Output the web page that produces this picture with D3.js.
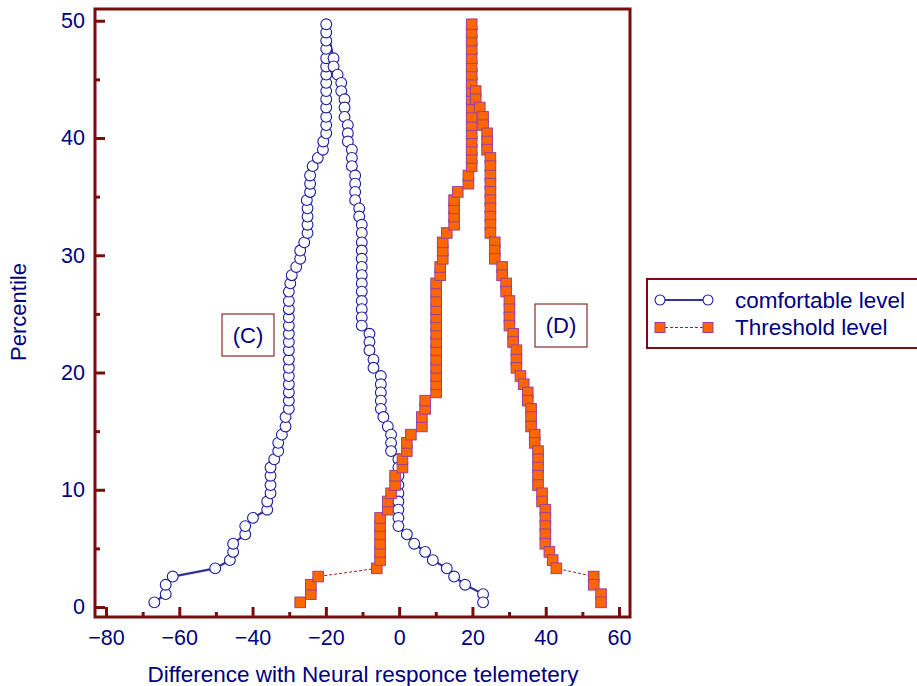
<!DOCTYPE html>
<html>
<head>
<meta charset="utf-8">
<script src="https://cdn.jsdelivr.net/npm/d3@7"></script>
<style>
	body { margin: 0; background: #fff; }
	text { font-family: "Liberation Sans", Arial, sans-serif; fill: #000080; }
</style>
</head>
<body>
<script>
// percentile levels (folded, rank 0 .. 69)
const percentiles = [0.4, 1.1, 1.9, 2.6, 3.3, 4.0, 4.7, 5.4, 6.2, 6.9, 7.6, 8.3, 9.0, 9.7, 10.4, 11.2, 11.9, 12.6, 13.3, 14.0,
	14.7, 15.4, 16.2, 16.9, 17.6, 18.3, 19.0, 19.7, 20.4, 21.1, 21.9, 22.6, 23.3, 24.0, 24.7, 25.4, 26.1, 26.9, 27.6, 28.3,
	29.0, 29.7, 30.4, 31.1, 31.9, 32.6, 33.3, 34.0, 34.7, 35.4, 36.1, 36.8, 37.6, 38.3, 39.0, 39.7, 40.4, 41.1, 41.8, 42.6,
	43.3, 44.0, 44.7, 45.4, 46.1, 46.8, 47.6, 48.3, 49.0, 49.7];

// comfortable level: rising side (rank 0 -> 69), falling side (rank 65 -> 0)
const comfortRise = [-66.8, -63.7, -63.7, -61.8, -50.2, -46.2, -45.3, -45.3, -42.0, -42.0, -39.9, -36.0, -36.0, -35.1, -35.1,
	-35.1, -35.1, -34.1, -33.0, -33.0, -32.0, -31.0, -31.0, -30.1, -30.1, -30.1, -30.1, -30.1, -30.1, -30.1, -30.1, -30.1,
	-30.1, -30.1, -30.1, -30.1, -30.1, -30.1, -29.7, -29.3, -28.1, -27.0, -27.0, -25.9, -25.0, -25.0, -25.0, -25.0, -25.2,
	-24.3, -24.3, -24.3, -23.6, -22.2, -20.8, -20.7, -19.9, -19.9, -19.9, -19.9, -19.9, -19.9, -19.9, -19.9, -19.9, -19.9,
	-19.9, -19.9, -19.9, -19.9];
const comfortFallRanks = d3.range(65, -1, -1);
const comfortFall = [-17.9, -17.9, -16.8, -15.8, -15.8, -14.9, -14.9, -14.9, -14.0, -14.0, -14.0, -12.9, -12.9, -12.9, -12.0,
	-12.0, -12.0, -12.0, -10.9, -10.9, -10.2, -10.2, -10.2, -10.2, -10.2, -10.2, -10.2, -10.2, -10.2, -10.2, -10.2, -10.2,
	-10.2, -8.1, -8.1, -8.1, -7.0, -7.0, -5.0, -5.0, -5.0, -5.0, -5.0, -4.3, -3.1, -2.2, -2.2, -2.2, -0.2, -0.2, -0.2, -0.2,
	-0.2, -0.2, -0.2, -0.2, -0.2, 2.1, 4.1, 7.1, 9.2, 13.0, 15.0, 18.0, 22.9, 22.9];

// threshold level: rising side (rank 0 -> 69), falling side (rank 61 -> 0)
const thresholdRise = [-27.0, -24.1, -24.1, -22.1, -6.1, -5.2, -5.2, -5.2, -5.2, -5.2, -5.2, -3.1, -3.1, -2.2, -1.1, -1.1,
	0.9, 0.9, 2.1, 2.1, 3.2, 6.2, 6.2, 7.1, 7.1, 10.1, 10.1, 10.1, 10.1, 10.1, 10.1, 10.1, 10.1, 10.1, 10.1, 10.1, 10.1,
	10.1, 10.1, 11.2, 11.2, 11.9, 11.9, 11.9, 13.0, 15.0, 15.0, 15.0, 15.0, 16.0, 18.9, 18.9, 19.8, 19.8, 19.8, 19.8, 19.8,
	19.8, 19.8, 19.8, 19.8, 19.8, 19.8, 19.8, 19.8, 19.8, 19.8, 19.8, 19.8, 19.8];
const thresholdFallRanks = d3.range(61, -1, -1);
const thresholdFall = [20.9, 20.9, 22.0, 22.9, 22.9, 24.0, 24.0, 24.0, 24.9, 24.9, 24.9, 24.9, 24.9, 24.9, 24.9, 24.9, 24.9,
	24.9, 26.1, 26.1, 26.1, 28.1, 28.1, 29.2, 29.2, 30.1, 30.1, 30.1, 30.1, 31.1, 31.1, 32.0, 32.0, 32.0, 33.1, 34.0, 35.1,
	35.1, 36.0, 36.0, 36.0, 37.0, 37.0, 37.9, 37.9, 37.9, 37.9, 37.9, 39.0, 39.0, 39.9, 39.9, 39.9, 39.9, 39.9, 41.0, 41.9,
	42.9, 53.1, 53.1, 55.1, 55.1];

const xTicks = [-80, -60, -40, -20, 0, 20, 40, 60];
const yTicks = [0, 10, 20, 30, 40, 50];
const seriesNames = ["comfortable level", "Threshold level"];

const frameColor = "#7a0c0c";
const blue = "#1c1ca0";
const orange = "#ff6600";

const width = 917, height = 686;
const plot = { left: 95, right: 630, top: 9, bottom: 617 };

const x = d3.scaleLinear().domain([-83, 63]).range([plot.left, plot.right]);
const y = d3.scaleLinear().domain([-0.85, 51]).range([plot.bottom, plot.top]);

const toPoints = (rise, fall, fallRanks) =>
	rise.map((v, i) => ({ x: v, y: percentiles[i] }))
		.concat(fall.map((v, i) => ({ x: v, y: percentiles[fallRanks[i]] })));

const comfort = toPoints(comfortRise, comfortFall, comfortFallRanks);
const threshold = toPoints(thresholdRise, thresholdFall, thresholdFallRanks);

const svg = d3.select("body").append("svg")
	.attr("width", width)
	.attr("height", height);

// axes
const tickStyle = g => {
	g.select(".domain").remove();
	g.selectAll(".tick line").attr("stroke", frameColor).attr("stroke-width", 3);
	g.selectAll(".tick text").style("font-size", "21.5px").attr("fill", "#000080");
};

svg.append("g")
	.attr("transform", `translate(0,${plot.bottom})`)
	.call(d3.axisBottom(x).tickValues(d3.range(-70, 61, 20)).tickSize(-5).tickFormat(""))
	.call(tickStyle);
svg.append("g")
	.attr("transform", `translate(0,${plot.bottom})`)
	.call(d3.axisBottom(x).tickValues(xTicks).tickSize(-10).tickPadding(13))
	.call(tickStyle);

svg.append("g")
	.attr("transform", `translate(${plot.left},0)`)
	.call(d3.axisLeft(y).tickValues(d3.range(5, 50, 10)).tickSize(-5).tickFormat(""))
	.call(tickStyle);
svg.append("g")
	.attr("transform", `translate(${plot.left},0)`)
	.call(d3.axisLeft(y).tickValues(yTicks).tickSize(-10).tickPadding(10))
	.call(tickStyle);

// frame
svg.append("path")
	.attr("d", `M${plot.left},${plot.bottom}V${plot.top}H${plot.right}V${plot.bottom}Z`)
	.attr("fill", "none")
	.attr("stroke", frameColor)
	.attr("stroke-width", 3);

// comfortable level
const line = d3.line().x(d => x(d.x)).y(d => y(d.y));

svg.append("path")
	.datum(comfort)
	.attr("d", line)
	.attr("fill", "none")
	.attr("stroke", "#33339a")
	.attr("stroke-width", 2.2);

svg.append("g").selectAll("circle")
	.data(comfort)
	.join("circle")
	.attr("cx", d => x(d.x))
	.attr("cy", d => y(d.y))
	.attr("r", 5.4)
	.attr("fill", "#fff")
	.attr("stroke", blue)
	.attr("stroke-width", 1.1);

// threshold level
svg.append("path")
	.datum(threshold)
	.attr("d", line)
	.attr("fill", "none")
	.attr("stroke", "#a02020")
	.attr("stroke-width", 1)
	.attr("stroke-dasharray", "3,2");

const sq = 10.6;
svg.append("g").selectAll("rect")
	.data(threshold)
	.join("rect")
	.attr("x", d => x(d.x) - sq / 2)
	.attr("y", d => y(d.y) - sq / 2)
	.attr("width", sq)
	.attr("height", sq)
	.attr("fill", orange)
	.attr("stroke", "#9a3f9a")
	.attr("stroke-width", 1);

// annotations
const note = (label, bx, by, bw, bh) => {
	svg.append("rect")
		.attr("x", bx).attr("y", by).attr("width", bw).attr("height", bh)
		.attr("fill", "#fff")
		.attr("stroke", "#8b2a2a")
		.attr("stroke-width", 1.2);
	svg.append("text")
		.attr("x", bx + bw / 2).attr("y", by + bh / 2)
		.attr("text-anchor", "middle")
		.attr("dominant-baseline", "central")
		.style("font-size", "22px")
		.text(label);
};
note("(C)", 222, 314, 52, 42);
note("(D)", 535, 304, 52, 43);

// axis titles
svg.append("text")
	.attr("x", 363).attr("y", 674)
	.attr("text-anchor", "middle")
	.attr("dominant-baseline", "central")
	.style("font-size", "22.5px")
	.text("Difference with Neural responce telemetery");

svg.append("text")
	.attr("transform", "translate(18,312) rotate(-90)")
	.attr("text-anchor", "middle")
	.attr("dominant-baseline", "central")
	.style("font-size", "22px")
	.text("Percentile");

// legend
const legend = svg.append("g");
legend.append("rect")
	.attr("x", 647).attr("y", 279).attr("width", 280).attr("height", 69)
	.attr("fill", "#fff")
	.attr("stroke", frameColor)
	.attr("stroke-width", 2);

seriesNames.forEach((name, i) => {
	const ly = 300 + i * 27.5;
	const g = legend.append("g");
	g.append("line")
		.attr("x1", 660).attr("x2", 708).attr("y1", ly).attr("y2", ly)
		.attr("stroke", i ? "#a02020" : "#33339a")
		.attr("stroke-width", i ? 1 : 2)
		.attr("stroke-dasharray", i ? "3,2" : null);
	[660, 708].forEach(cx => {
		if (i) {
			g.append("rect")
				.attr("x", cx - 5).attr("y", ly - 5).attr("width", 10).attr("height", 10)
				.attr("fill", orange).attr("stroke", "#9a3f9a");
		} else {
			g.append("circle")
				.attr("cx", cx).attr("cy", ly).attr("r", 5)
				.attr("fill", "#fff").attr("stroke", blue).attr("stroke-width", 1.1);
		}
	});
	g.append("text")
		.attr("x", 735).attr("y", ly)
		.attr("dominant-baseline", "central")
		.style("font-size", "22.5px")
		.text(name);
});
</script>
</body>
</html>
